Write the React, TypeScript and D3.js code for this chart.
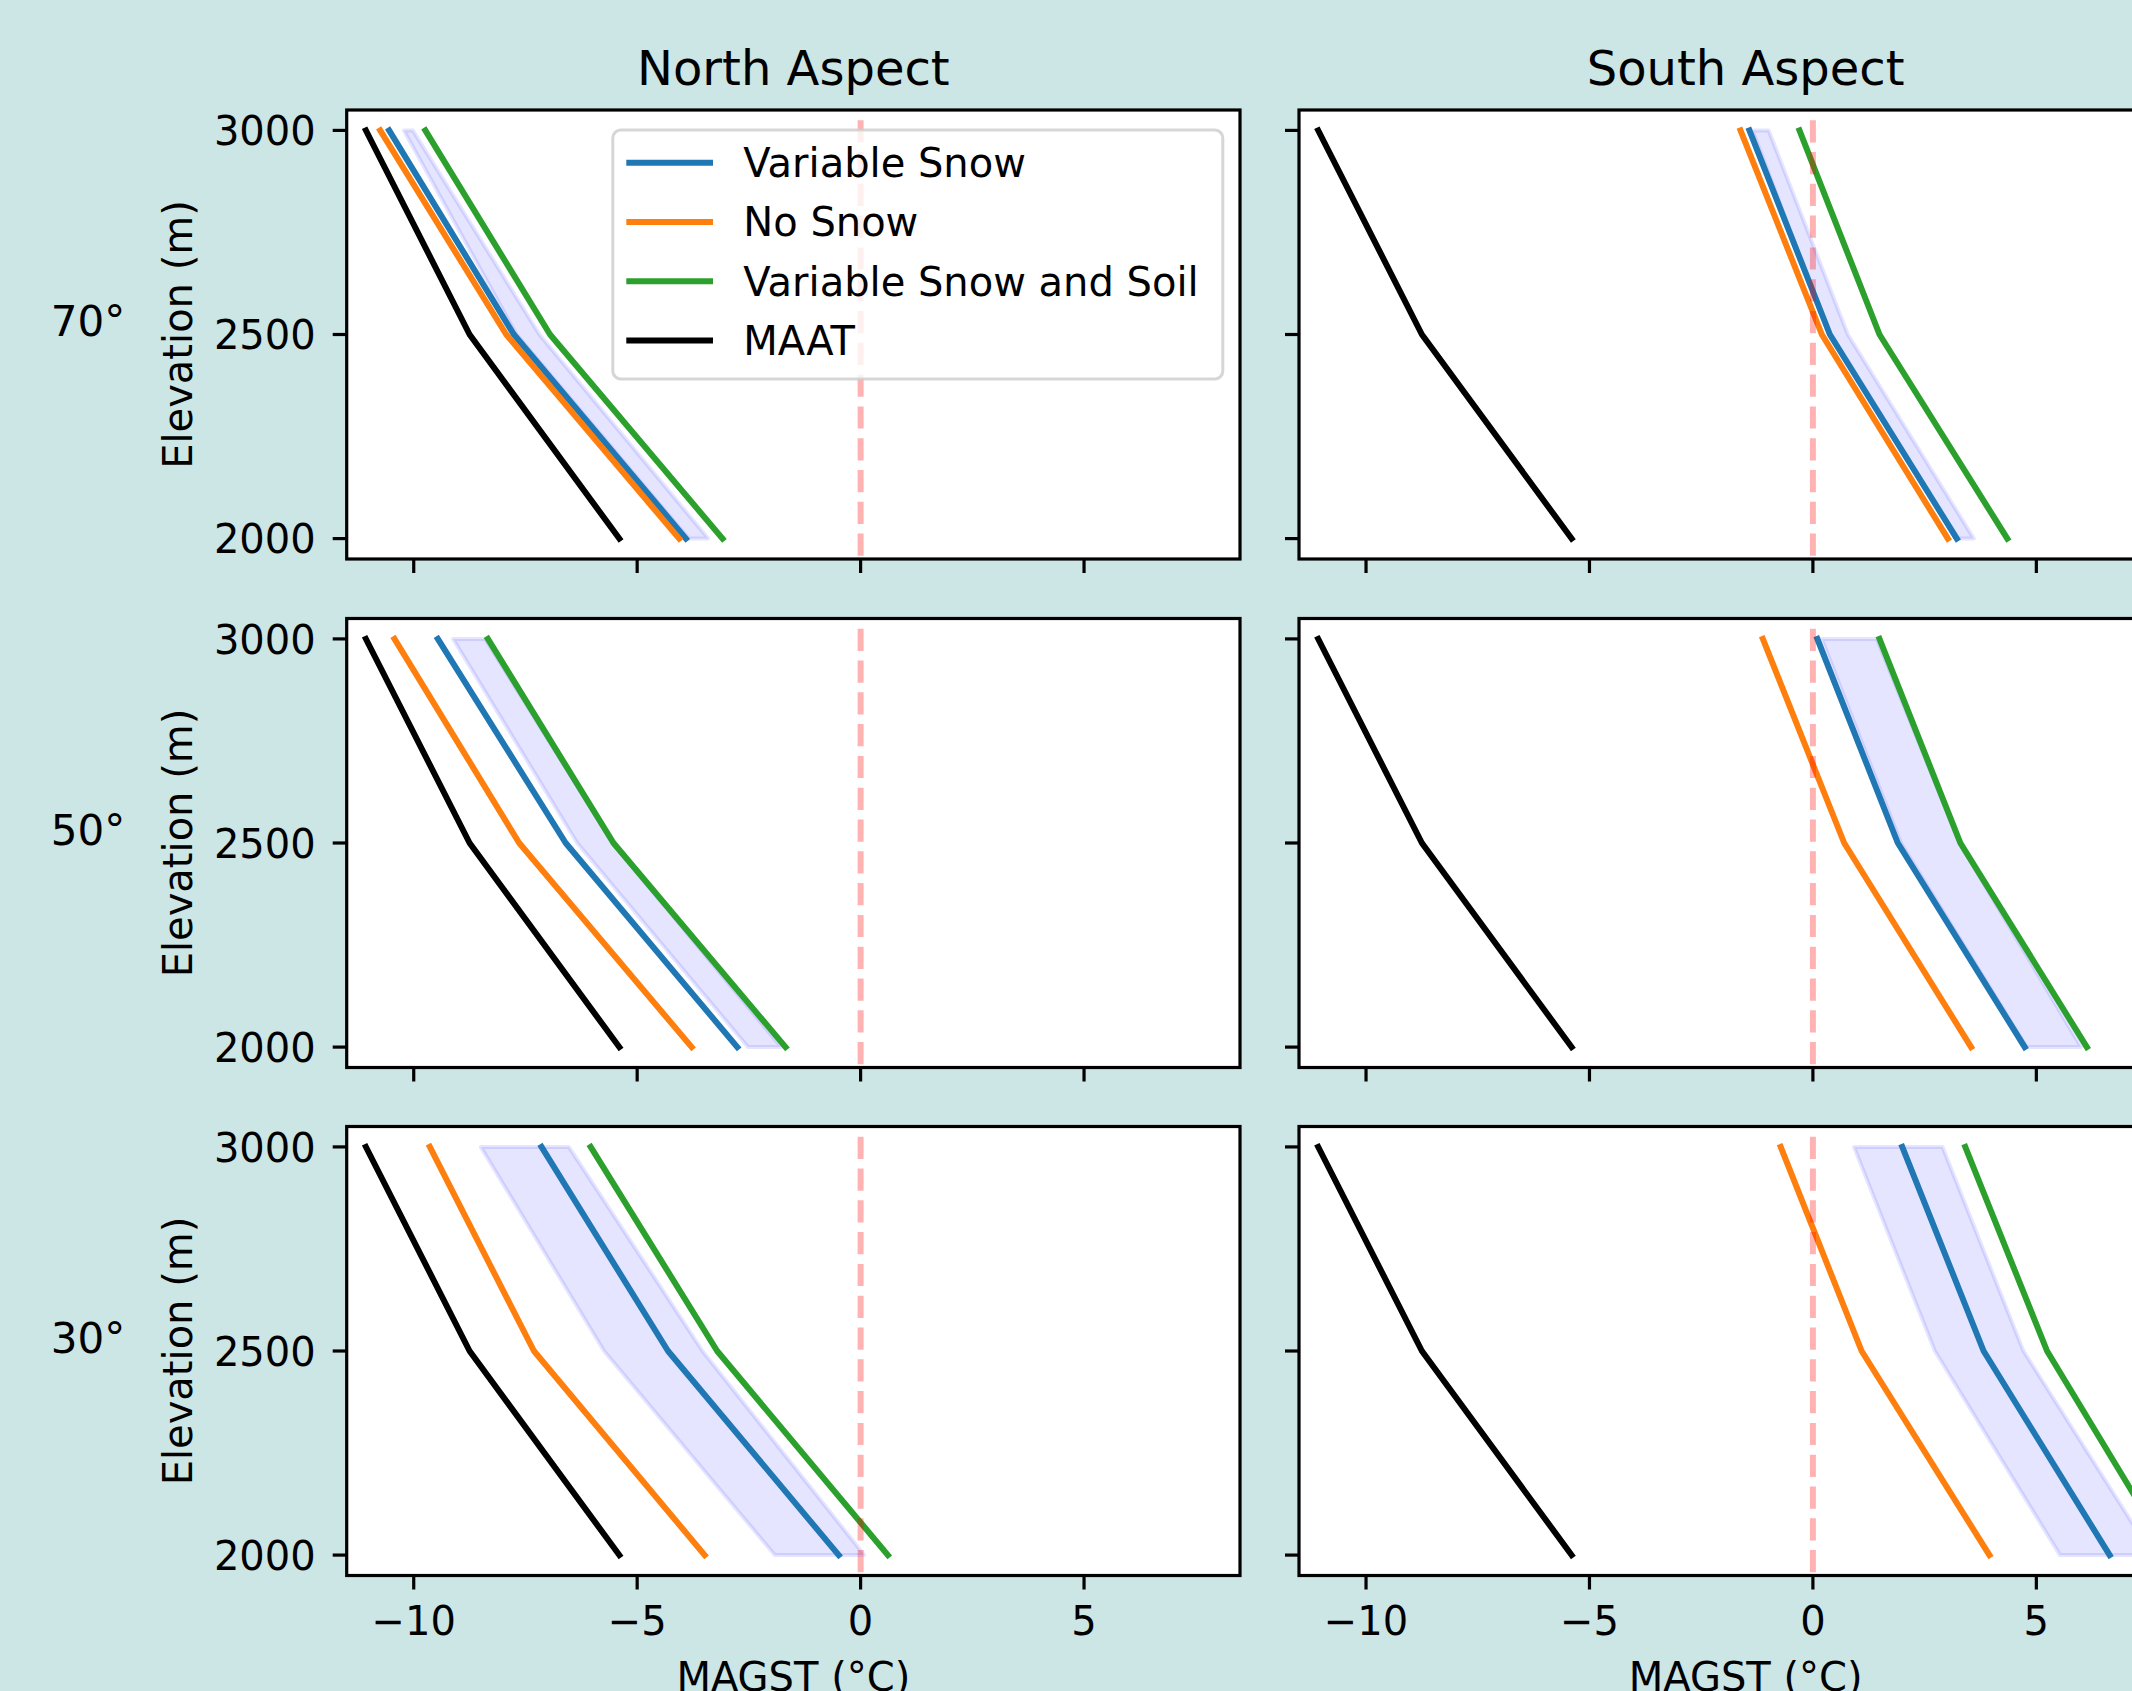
import React from "react";
import * as d3 from "d3";

// elevations where each profile is sampled (m)
const elevations = [2000, 2500, 3000];

const aspects = ["North Aspect", "South Aspect"];
const slopes = ["70°", "50°", "30°"];
const xTicks = [-10, -5, 0, 5];
const yTicks = [2000, 2500, 3000];

// panel order: 70N, 70S, 50N, 50S, 30N, 30S  (values at 2000, 2500, 3000 m)
const maat = [-5.4, -8.75, -11.07];
const noSnow = [
  [-4.06, -7.93, -10.75],
  [3.02, 0.2, -1.62],
  [-3.78, -7.64, -10.43],
  [3.54, 0.7, -1.12],
  [-3.49, -7.31, -9.64],
  [3.95, 1.09, -0.72],
];
const variableSnow = [
  [-3.91, -7.76, -10.55],
  [3.22, 0.38, -1.42],
  [-2.76, -6.6, -9.46],
  [4.74, 1.9, 0.1],
  [-0.49, -4.31, -7.14],
  [6.64, 3.82, 2.0],
];
const snowAndSoil = [
  [-3.09, -6.95, -9.74],
  [4.35, 1.49, -0.3],
  [-1.68, -5.53, -8.34],
  [6.13, 3.3, 1.49],
  [0.61, -3.21, -6.04],
  [8.0, 5.24, 3.41],
];
const rangeLow = [
  [-3.85, -7.7, -10.22],
  [3.2, 0.36, -1.35],
  [-2.52, -6.34, -9.12],
  [4.78, 1.97, 0.2],
  [-1.92, -5.74, -8.5],
  [5.53, 2.73, 0.92],
];
const rangeHigh = [
  [-3.41, -7.19, -10.02],
  [3.6, 0.78, -0.99],
  [-1.78, -5.55, -8.4],
  [6.0, 3.28, 1.43],
  [0.08, -3.54, -6.53],
  [7.6, 4.71, 2.9],
];

const legendItems = [
  { label: "Variable Snow", color: "#1f77b4" },
  { label: "No Snow", color: "#ff7f0e" },
  { label: "Variable Snow and Soil", color: "#2ca02c" },
  { label: "MAAT", color: "#000000" },
];

const W = 2132;
const H = 1691;
const colLeft = [346.7, 1299];
const rowTop = [110, 618.5, 1126.5];
const pw = 893.3;
const ph = 449;
const font = "DejaVu Sans, sans-serif";
const fs = 40;
const minus = (v: number) => String(v).replace("-", "\u2212");

const x = d3.scaleLinear().domain([-11.5, 8.49]).range([0, pw]);
const y = d3.scaleLinear().domain([1950, 3050]).range([ph, 0]);

const line = d3
  .line<number>()
  .x((d) => x(d))
  .y((_, i) => y(elevations[i]));

const Panel = ({ row, col }: { row: number; col: number }) => {
  const idx = row * 2 + col;
  const id = `clip-${idx}`;
  const band = d3
    .area<number>()
    .y((_, i) => y(elevations[i]))
    .x0((d) => x(d))
    .x1((_, i) => x(rangeHigh[idx][i]));

  const series = [
    { vals: variableSnow[idx], color: "#1f77b4" },
    { vals: noSnow[idx], color: "#ff7f0e" },
    { vals: snowAndSoil[idx], color: "#2ca02c" },
    { vals: maat, color: "#000000" },
  ];

  return (
    <g transform={`translate(${colLeft[col]},${rowTop[row]})`}>
      <defs>
        <clipPath id={id}>
          <rect x={0} y={0} width={pw} height={ph} />
        </clipPath>
      </defs>
      <rect x={0} y={0} width={pw} height={ph} fill="#ffffff" />
      <g clipPath={`url(#${id})`}>
        <path
          d={band(rangeLow[idx]) || ""}
          fill="rgba(0,0,255,0.1)"
          stroke="rgba(0,0,255,0.1)"
          strokeWidth={4}
          strokeLinejoin="round"
        />
        {series.map((s, i) => (
          <path
            key={i}
            d={line(s.vals) || ""}
            fill="none"
            stroke={s.color}
            strokeWidth={6}
            strokeLinejoin="round"
            strokeLinecap="square"
          />
        ))}
        <line
          x1={x(0)}
          x2={x(0)}
          y1={y(3025)}
          y2={y(1950) + 10}
          stroke="rgba(255,0,0,0.3)"
          strokeWidth={6}
          strokeDasharray="22.2 9.6"
        />
      </g>
      <rect x={0} y={0} width={pw} height={ph} fill="none" stroke="#000" strokeWidth={3.2} />
      {yTicks.map((t) => (
        <g key={t}>
          <line x1={-14} x2={0} y1={y(t)} y2={y(t)} stroke="#000" strokeWidth={3.2} />
          {col === 0 && (
            <text x={-31} y={y(t) + 14.6} textAnchor="end" fontFamily={font} fontSize={fs}>
              {t}
            </text>
          )}
        </g>
      ))}
      {xTicks.map((t) => (
        <g key={t}>
          <line x1={x(t)} x2={x(t)} y1={ph} y2={ph + 14} stroke="#000" strokeWidth={3.2} />
          {row === 2 && (
            <text x={x(t)} y={ph + 59} textAnchor="middle" fontFamily={font} fontSize={fs}>
              {minus(t)}
            </text>
          )}
        </g>
      ))}
      {row === 2 && (
        <text x={pw / 2} y={ph + 115} textAnchor="middle" fontFamily={font} fontSize={fs}>
          MAGST (°C)
        </text>
      )}
      {row === 0 && (
        <text x={pw / 2} y={-25} textAnchor="middle" fontFamily={font} fontSize={48}>
          {aspects[col]}
        </text>
      )}
      {col === 0 && (
        <>
          <text
            transform={`translate(${191.7 - colLeft[0]},${ph / 2}) rotate(-90)`}
            textAnchor="middle"
            fontFamily={font}
            fontSize={fs}
          >
            Elevation (m)
          </text>
          <text x={88 - colLeft[0]} y={ph / 2 + 1.5} textAnchor="middle" fontFamily={font} fontSize={42}>
            {slopes[row]}
          </text>
        </>
      )}
      {row === 0 && col === 0 && (
        <g transform={`translate(${612.8 - colLeft[0]},${130 - rowTop[0]})`}>
          <rect
            x={0}
            y={0}
            width={610}
            height={249}
            rx={8}
            fill="rgba(255,255,255,0.8)"
            stroke="rgba(204,204,204,0.8)"
            strokeWidth={3}
          />
          {legendItems.map((it, i) => (
            <g key={it.label} transform={`translate(0,${32.7 + i * 59.3})`}>
              <line x1={13.5} x2={100.2} y1={0} y2={0} stroke={it.color} strokeWidth={6} />
              <text x={130.5} y={14.3} fontFamily={font} fontSize={fs}>
                {it.label}
              </text>
            </g>
          ))}
        </g>
      )}
    </g>
  );
};

export default function App() {
  return (
    <svg
      width={W}
      height={H}
      viewBox={`0 0 ${W} ${H}`}
      style={{ position: "absolute", left: 0, top: 0, display: "block" }}
    >
      <rect x={0} y={0} width={W} height={H} fill="#cce5e5" />
      {[0, 1, 2].map((r) =>
        [0, 1].map((c) => <Panel key={`${r}-${c}`} row={r} col={c} />)
      )}
    </svg>
  );
}
